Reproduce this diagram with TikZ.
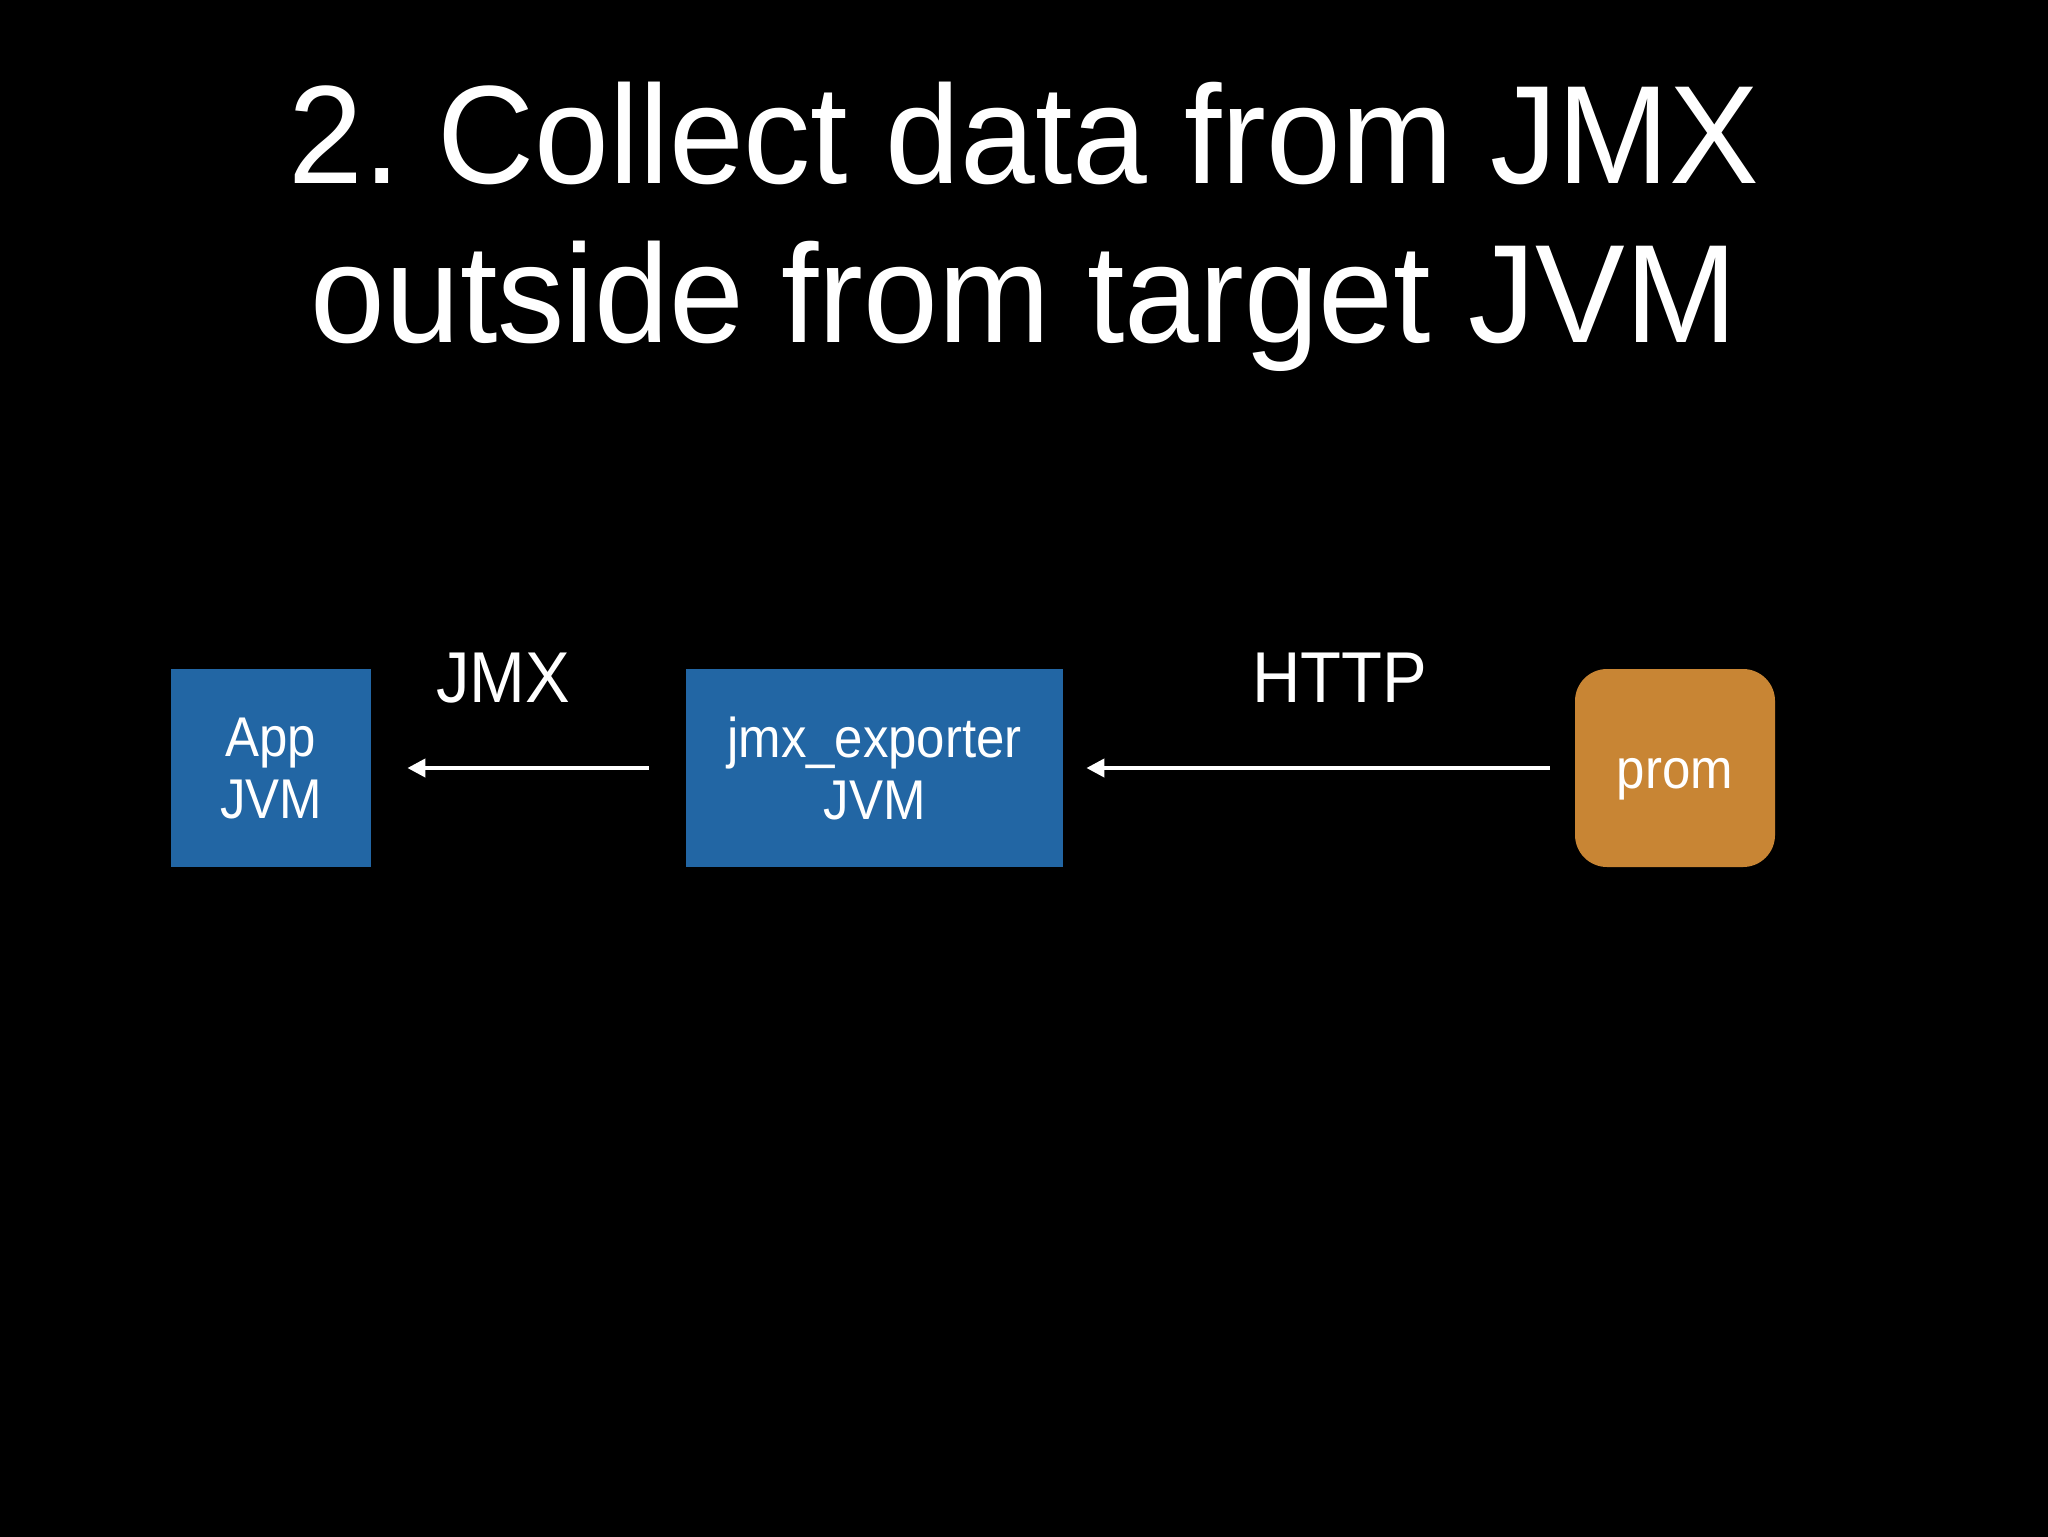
\documentclass[tikz,border=0pt]{standalone}
\usepackage{fontspec}
\setmainfont{Liberation Sans}
\newfontfamily\titlefont{Liberation Sans}[FakeStretch=0.96]
\newfontfamily\labfont{Liberation Sans}[FakeStretch=0.93]
\newfontfamily\boxfont{Liberation Sans}[FakeStretch=0.91]
\usetikzlibrary{arrows.meta}
\definecolor{boxblue}{RGB}{34,102,164}
\definecolor{promorange}{RGB}{200,133,52}
\frenchspacing
\begin{document}
\begin{tikzpicture}[x=0.5pt,y=-0.5pt,
  title/.style={text=white, font=\titlefont\fontsize{70}{80}\selectfont, inner sep=0pt, anchor=base},
  lab/.style={text=white, font=\labfont\fontsize{36}{40}\selectfont, inner sep=0pt, anchor=base},
  box/.style={fill=boxblue, draw=none, text=white, font=\boxfont\fontsize{28}{31}\selectfont, align=center, inner sep=0pt, minimum height=99pt},
  promnode/.style={fill=promorange, draw=none, rounded corners=16pt, text=white, font=\boxfont\fontsize{28}{30}\selectfont, inner sep=0pt, minimum width=100pt, minimum height=99pt, text height=20pt, text depth=0pt},
  conn/.style={draw=white, line width=2pt, -{Triangle[length=9pt,width=9pt]}}]
\useasboundingbox (0,0) rectangle (2048,1536);
\fill[black] (-20,-20) rectangle (2068,1556);
\node[title] (t1) at (1024,183) {2. Collect data from JMX};
\node[title] (t2) at (1024,342) {outside from target JVM};
\node[box, minimum width=100pt] (app) at (271,768) {App\\JVM};
\node[box, minimum width=188.5pt] (jmx) at (874.5,768) {jmx\_exporter\\JVM};
\node[promnode] (prom) at (1675,768) {prom};
\draw[conn, shorten <=18.5pt, shorten >=18pt] (jmx.west) -- (app.east);
\draw[conn, shorten <=12.5pt, shorten >=11.5pt] (prom.west) -- (jmx.east);
\node[lab] (l1) at (503,702) {JMX};
\node[lab] (l2) at (1340,702) {HTTP};
\end{tikzpicture}
\end{document}
